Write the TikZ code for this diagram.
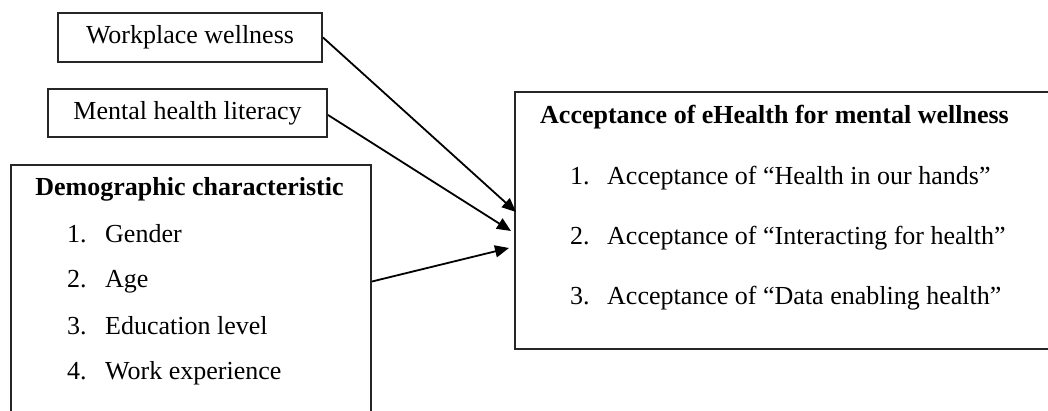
\documentclass[tikz,border=0pt]{standalone}
\usepackage{fontspec}
\setmainfont{Liberation Serif}
\usetikzlibrary{arrows.meta,positioning}
\tikzset{
  varbox/.style={draw=black!85, line width=2pt, inner sep=0pt,
    font=\fontsize{26}{31}\selectfont},
  bigbox/.style={draw=black!85, line width=2pt, inner sep=0pt},
  headtext/.style={anchor=base, inner sep=0pt, font=\fontsize{26}{31}\selectfont\bfseries},
  itemtext/.style={anchor=base west, inner sep=0pt, font=\fontsize{26}{31}\selectfont},
  arr/.style={-{Triangle[length=14pt,width=12pt]}, line width=1.8pt}
}

\begin{document}
\begin{tikzpicture}[x=1pt, y=1pt]
  \useasboundingbox (0,0) rectangle (1048,411);

  % left hand side
  \node[varbox, minimum width=264pt, minimum height=49pt] (ww) at (190,373.5) {Workplace wellness};
  \node[varbox, minimum width=279pt, minimum height=48pt] (mhl) at (187.5,298) {Mental health literacy};
  \node[bigbox, minimum width=360pt, minimum height=255pt] (demo) at (191,118.5) {};
  \node[headtext] (demohead) at (189.5,215) {Demographic characteristic};
  \node[itemtext] (d1) at (67,168) {1.};
  \node[itemtext] (d2) at (67,123) {2.};
  \node[itemtext] (d3) at (67,76) {3.};
  \node[itemtext] (d4) at (67,31) {4.};
  \node[itemtext] (gender) at (105,168) {Gender};
  \node[itemtext] (age) at (105,123) {Age};
  \node[itemtext] (edu) at (105,76) {Education level};
  \node[itemtext] (work) at (105,31) {Work experience};

  % outcome
  \node[bigbox, minimum width=537pt, minimum height=257pt] (acc) at (783.5,190.5) {};
  \node[headtext] (acchead) at (774.5,287) {Acceptance of eHealth for mental wellness};
  \node[itemtext] (a1) at (570,226) {1.};
  \node[itemtext] (a2) at (570,166) {2.};
  \node[itemtext] (a3) at (570,106) {3.};
  \node[itemtext] (hands) at (607,226) {Acceptance of “Health in our hands”};
  \node[itemtext] (inter) at (607,166) {Acceptance of “Interacting for health”};
  \node[itemtext] (data) at (607,106) {Acceptance of “Data enabling health”};

  \coordinate (tip1) at (516,199);
  \coordinate (tip2) at (511,180);
  \coordinate (tip3) at (509,163);

  \draw[arr] (ww.east) -- (tip1);
  \draw[arr] ([yshift=-2pt]mhl.east) -- (tip2);
  \draw[arr] ([yshift=11pt]demo.east) -- (tip3);
\end{tikzpicture}
\end{document}
